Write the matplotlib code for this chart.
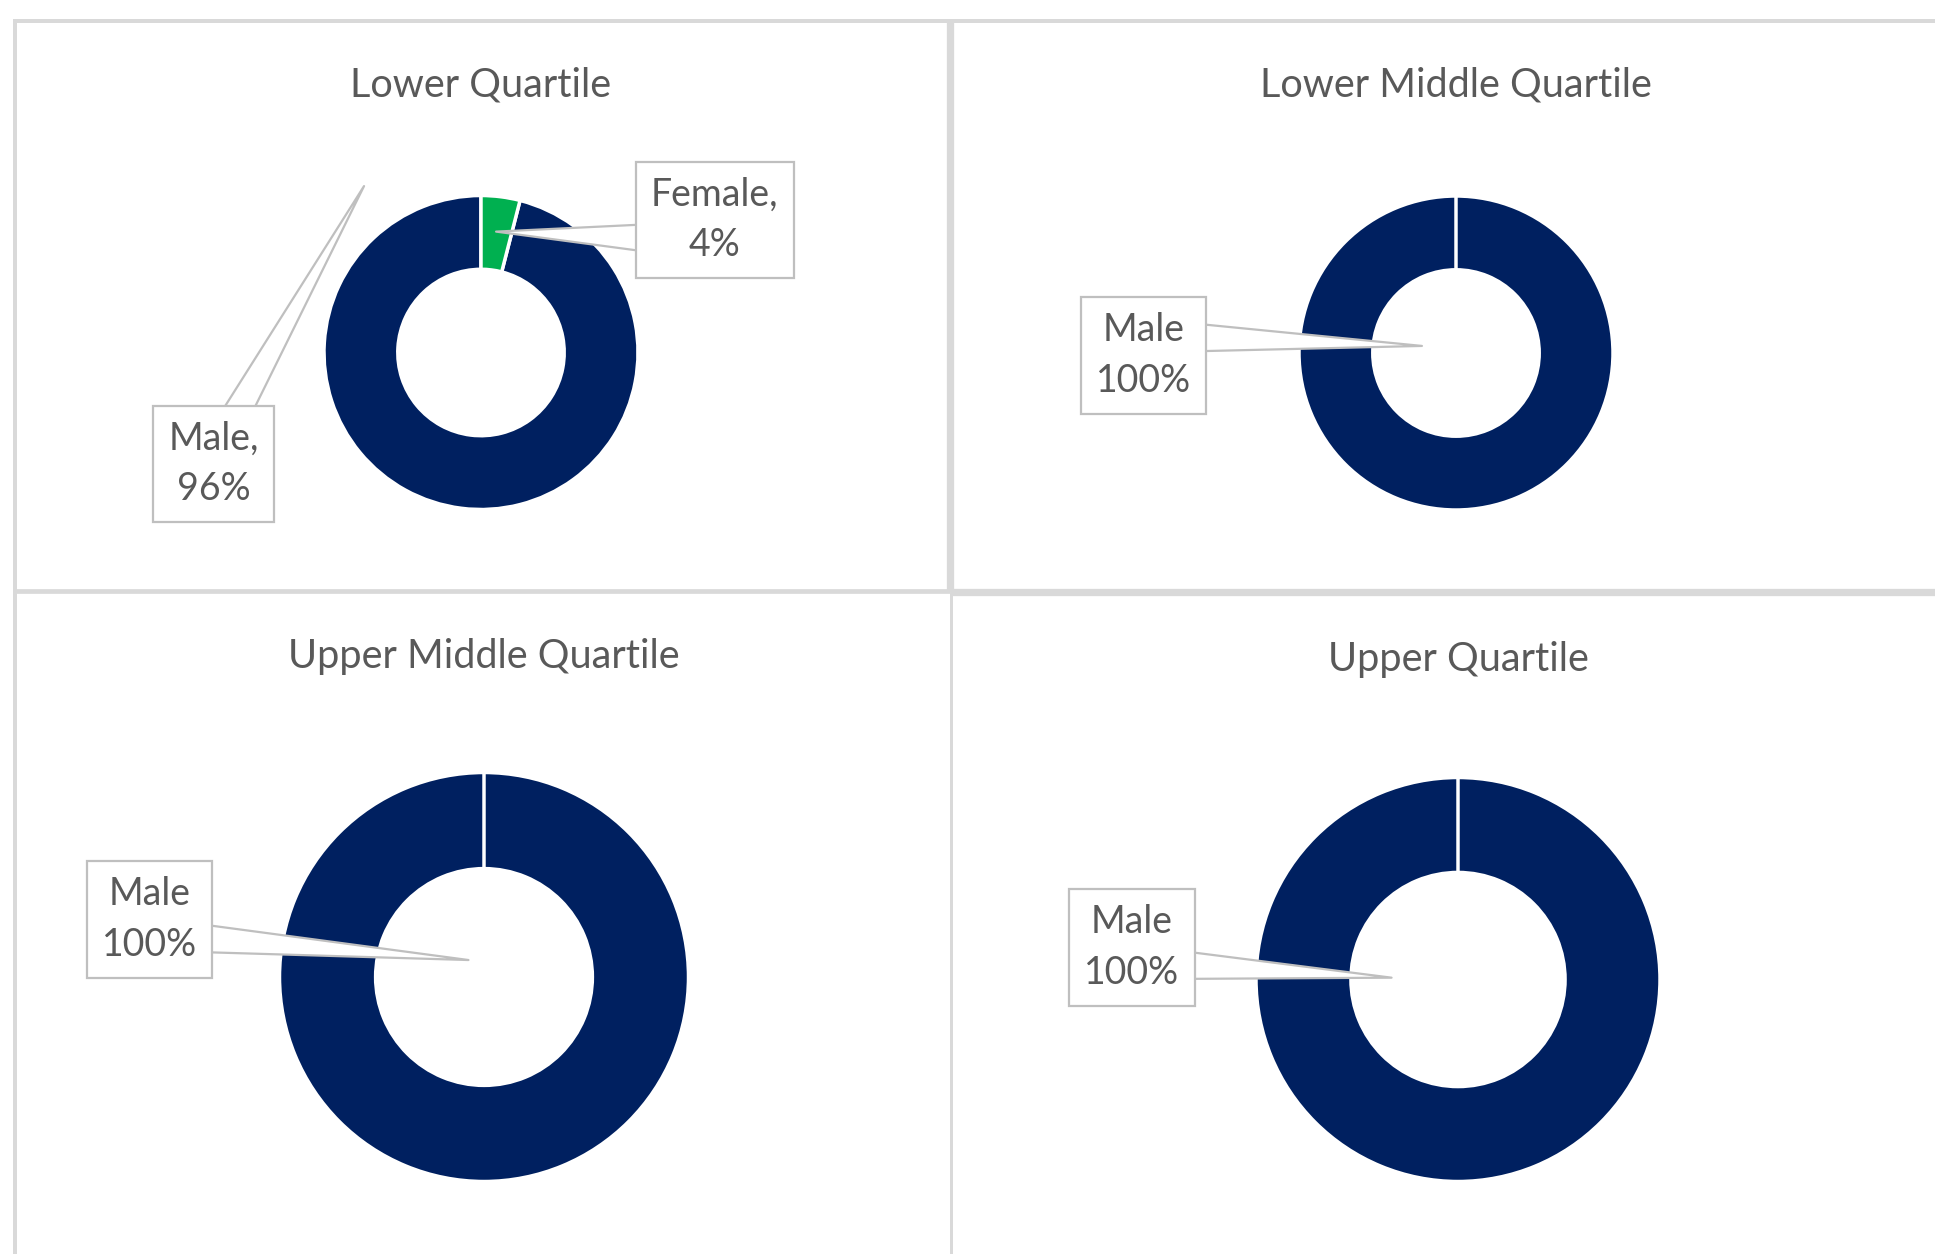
"""
Gender split by pay quartile: four donut charts in a 2x2 grid,
each with an Excel-style callout label.
"""
import matplotlib
matplotlib.use("Agg")
import matplotlib.pyplot as plt

W, H = 1935, 1254
NAVY, GREEN = "#002060", "#00B050"
GREY_TXT, GREY_BOX, GREY_LINE = "#595959", "#BFBFBF", "#D9D9D9"
plt.rcParams["font.family"] = ["Lato", "DejaVu Sans"]

# data
quartiles = ["Lower Quartile", "Lower Middle Quartile",
             "Upper Middle Quartile", "Upper Quartile"]
female_pct = [4, 0, 0, 0]
male_pct = [96, 100, 100, 100]
label_sep = [",\n", "\n", "\n", "\n"]

# layout (pixels): donut centre, radius, title baseline
layout = [dict(cx=481, cy=352.5, r=157, ty=97),
          dict(cx=1456, cy=353, r=157, ty=97),
          dict(cx=484, cy=977, r=204.5, ty=668),
          dict(cx=1458, cy=979.5, r=202, ty=671)]
# callout placement in radius units: (box centre, pointer tip, relpos)
callouts = {
    (0, "Female"): ((1.49, 0.844), (0.096, 0.77), (0, 0.29)),
    (0, "Male"): ((-1.704, -0.71), (-0.745, 1.06), (0.71, 1)),
    (1, "Male"): ((-1.99, -0.016), (-0.217, 0.045), (1, 0.71)),
    (2, "Male"): ((-1.636, 0.28), (-0.076, 0.083), (1, 0.29)),
    (3, "Male"): ((-1.614, 0.158), (-0.329, 0.009), (1, 0.30)),
}

fig = plt.figure(figsize=(W / 100, H / 100), dpi=100)

# panel frame lines
bg = fig.add_axes([0, 0, 1, 1], zorder=0)
bg.set_xlim(0, W); bg.set_ylim(H, 0); bg.axis("off")
frame = [((13, W), (21, 21), 4), ((15, 15), (19, H), 4),
         ((950.3, 950.3), (19, 592), 7.3), ((950.5, 950.5), (592, H), 3),
         ((13, 950), (591, 591), 4.7), ((950, W), (592.3, 592.3), 7.3)]
for xs, ys, lw in frame:
    bg.plot(xs, ys, color=GREY_LINE, lw=lw * 0.72, solid_capstyle="butt")

TITLE_FS, LABEL_FS = 28.5, 27
for i, name in enumerate(quartiles):
    L = layout[i]
    cx, cy, r = L["cx"], L["cy"], L["r"]
    ax = fig.add_axes([(cx - r) / W, 1 - (cy + r) / H, 2 * r / W, 2 * r / H], zorder=2)
    wedges, _ = ax.pie([female_pct[i], male_pct[i]], colors=[GREEN, NAVY],
                       startangle=90, counterclock=False, radius=1,
                       wedgeprops=dict(width=0.47, edgecolor="white", linewidth=2.5))
    wedges[0].set_zorder(3)   # keep the white slice border at 12 o'clock visible
    ax.set_xlim(-1, 1); ax.set_ylim(-1, 1); ax.set_aspect("equal")
    ax.axis("off")

    fig.text(cx / W, 1 - L["ty"] / H, name, ha="center", va="baseline",
             fontsize=TITLE_FS, color=GREY_TXT)

    for sex, v in (("Female", female_pct[i]), ("Male", male_pct[i])):
        if v == 0:
            continue
        box, tip, rel = callouts[(i, sex)]
        ax.annotate(f"{sex}{label_sep[i]}{v}%", xy=tip, xytext=box,
                    ha="center", va="center", fontsize=LABEL_FS, color=GREY_TXT,
                    linespacing=1.5, annotation_clip=False, zorder=5,
                    bbox=dict(boxstyle="square,pad=0.4", fc="white",
                              ec=GREY_BOX, lw=1.6),
                    arrowprops=dict(arrowstyle="wedge,tail_width=0.75,shrink_factor=0.5",
                                    fc="white", ec=GREY_BOX, lw=1.6,
                                    relpos=rel, patchA=None, shrinkA=0, shrinkB=0))

fig.savefig("out.png", dpi=100, facecolor="white")
